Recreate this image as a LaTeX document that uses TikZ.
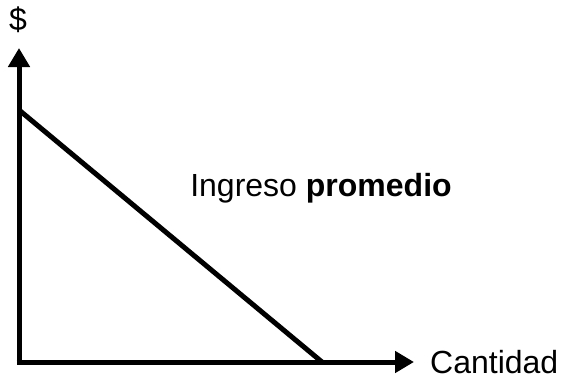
\documentclass[tikz,border=0pt]{standalone}
\usepackage{fontspec}
\setmainfont{Liberation Sans}
\usetikzlibrary{arrows.meta}
\tikzset{
  axis/.style={line width=5pt,-{Triangle[length=19pt,width=21pt]}},
  curve/.style={line width=5pt},
  lbl/.style={font=\fontsize{32}{34}\selectfont, inner sep=0pt}
}
\begin{document}
\begin{tikzpicture}[x=1pt,y=-1pt]
\useasboundingbox (0,0) rectangle (563,378);
\coordinate (O) at (19,362);
\coordinate (ytip) at (19,48);
\coordinate (xtip) at (414,362);
\coordinate (a) at (19,110);
\coordinate (b) at (322,362);
\draw[axis] ([yshift=-2.5pt]O) -- (ytip);
\draw[axis] ([xshift=-2.5pt]O) -- (xtip);
\draw[curve] (a) -- (b);
\node[lbl] (dollar) at (18,20) {\$};
\node[lbl, anchor=west, text height=23pt, text depth=0pt] (cant) at (430,362) {Cantidad};
\node[lbl] (ing) at (321,188) {Ingreso \textbf{promedio}};
\end{tikzpicture}
\end{document}
